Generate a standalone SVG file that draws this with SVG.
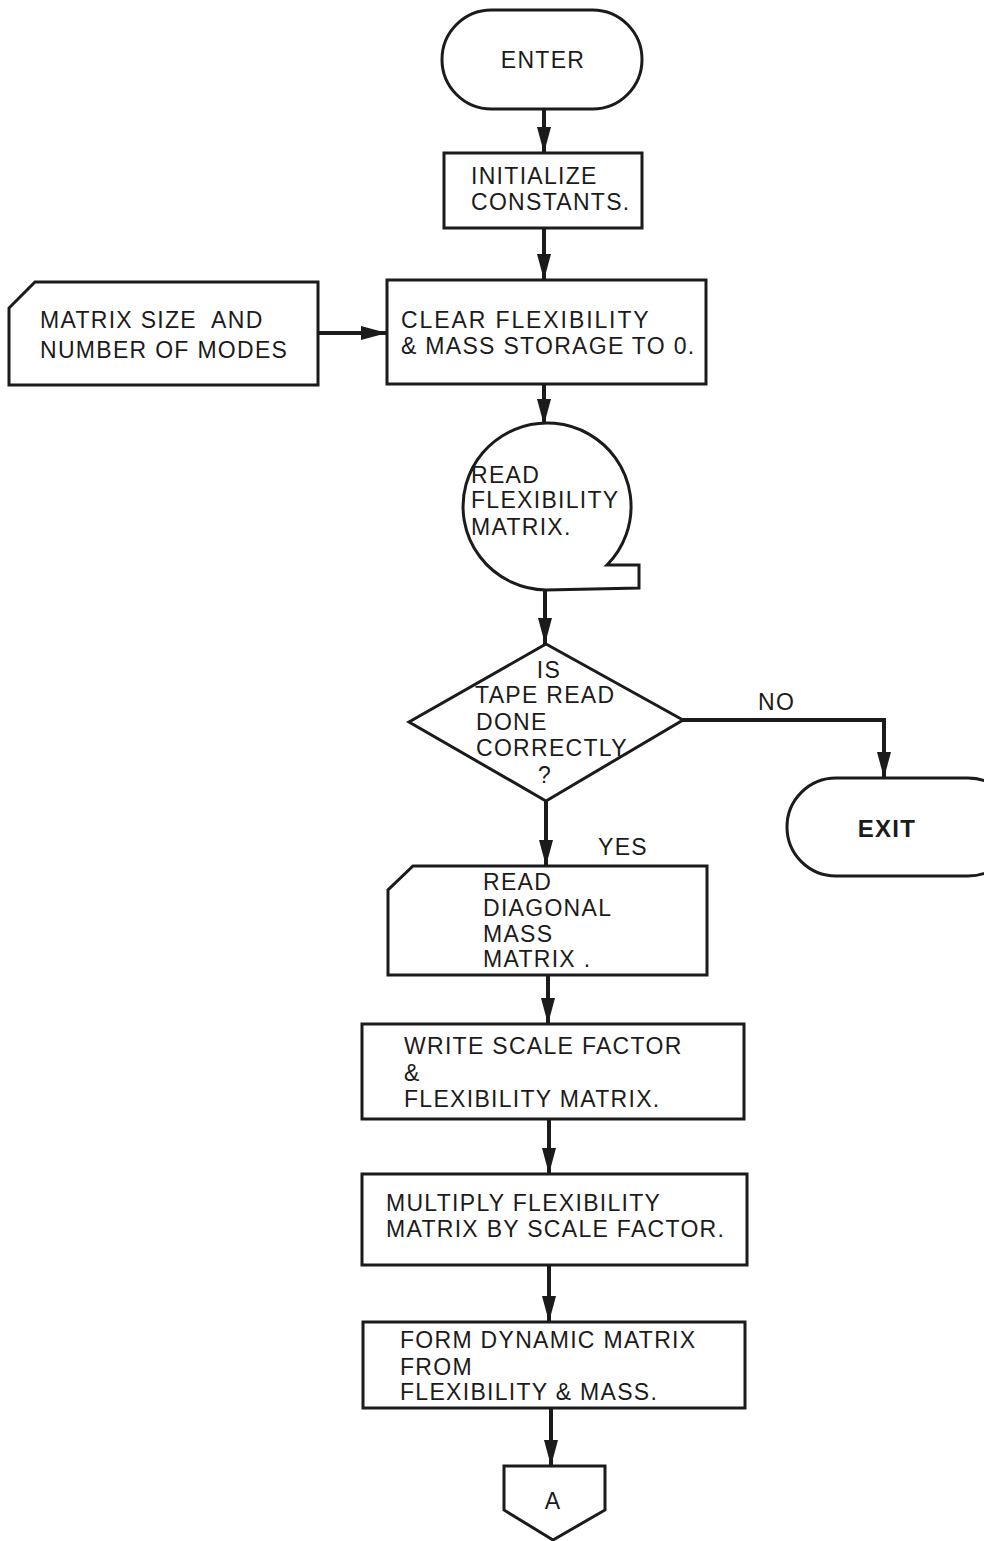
<svg xmlns="http://www.w3.org/2000/svg" width="984" height="1541" viewBox="0 0 984 1541">
  <defs>
    <marker id="arrow" markerWidth="26" markerHeight="14" refX="26" refY="7" orient="auto" markerUnits="userSpaceOnUse" viewBox="0 0 26 14">
      <path d="M0,0 L26,7 L0,14 z" fill="#1b1b1b"/>
    </marker>
    <style>
      .shape { fill: #ffffff; stroke: #1b1b1b; stroke-width: 3; stroke-linejoin: miter; }
      .link { fill: none; stroke: #1b1b1b; stroke-width: 4; }
      .label { font-family: "Liberation Sans", Arial, sans-serif; font-size: 23px; letter-spacing: 1.3px; fill: #1b1b1b; white-space: pre; }
      .mid { text-anchor: middle; }
    </style>
  </defs>

  <rect width="984" height="1541" fill="#ffffff"/>

  <!-- connectors -->
  <g id="connectors">
    <line class="link" x1="544" y1="109" x2="544" y2="153" marker-end="url(#arrow)"/>
    <line class="link" x1="544" y1="228" x2="544" y2="280" marker-end="url(#arrow)"/>
    <line class="link" x1="318" y1="333" x2="387" y2="333" marker-end="url(#arrow)"/>
    <line class="link" x1="544" y1="384" x2="544" y2="425" marker-end="url(#arrow)"/>
    <line class="link" x1="545" y1="590" x2="545" y2="644" marker-end="url(#arrow)"/>
    <polyline class="link" points="683,720 884,720 884,778" marker-end="url(#arrow)"/>
    <line class="link" x1="546" y1="801" x2="546" y2="866" marker-end="url(#arrow)"/>
    <line class="link" x1="548" y1="975" x2="548" y2="1024" marker-end="url(#arrow)"/>
    <line class="link" x1="549" y1="1119" x2="549" y2="1174" marker-end="url(#arrow)"/>
    <line class="link" x1="549" y1="1265" x2="549" y2="1322" marker-end="url(#arrow)"/>
    <line class="link" x1="551" y1="1408" x2="551" y2="1466" marker-end="url(#arrow)"/>
    <text class="label" x="758" y="710">NO</text>
    <text class="label" x="598" y="855">YES</text>
  </g>

  <!-- start terminal -->
  <g id="enter">
    <rect class="shape" x="442" y="10" width="200" height="99" rx="49.5" ry="49.5"/>
    <text class="label mid" x="543" y="68">ENTER</text>
  </g>

  <g id="initialize">
    <rect class="shape" x="444" y="153" width="198" height="75"/>
    <text class="label" x="471" y="184">INITIALIZE</text>
    <text class="label" x="471" y="210">CONSTANTS.</text>
  </g>

  <!-- manual input card -->
  <g id="matrix-size">
    <polygon class="shape" points="35,282 318,282 318,385 9,385 9,308"/>
    <text class="label" x="40" y="328">MATRIX SIZE  AND</text>
    <text class="label" x="40" y="358">NUMBER OF MODES</text>
  </g>

  <g id="clear-storage">
    <rect class="shape" x="387" y="280" width="319" height="104"/>
    <text class="label" x="401" y="328" style="letter-spacing:1.9px">CLEAR FLEXIBILITY</text>
    <text class="label" x="401" y="354">&amp; MASS STORAGE TO 0.</text>
  </g>

  <!-- magnetic tape input -->
  <g id="read-flexibility">
    <path class="shape" d="M546,590 A84,83.5 0 1 1 607,565 L639,565 L639,588 Z"/>
    <text class="label" x="471" y="483">READ</text>
    <text class="label" x="471" y="508">FLEXIBILITY</text>
    <text class="label" x="471" y="535">MATRIX.</text>
  </g>

  <!-- decision -->
  <g id="tape-check">
    <polygon class="shape" points="546,644 683,720 546,801 409,722"/>
    <text class="label mid" x="549" y="678">IS</text>
    <text class="label" x="475" y="703">TAPE READ</text>
    <text class="label" x="476" y="730">DONE</text>
    <text class="label" x="476" y="756">CORRECTLY</text>
    <text class="label mid" x="545" y="783">?</text>
  </g>

  <g id="exit">
    <rect class="shape" x="787" y="778" width="230" height="98" rx="49" ry="49"/>
    <text class="label mid" x="887" y="837" style="font-weight:bold;font-size:24px">EXIT</text>
  </g>

  <g id="read-mass">
    <polygon class="shape" points="413,866 707,866 707,975 388,975 388,890"/>
    <text class="label" x="483" y="890">READ</text>
    <text class="label" x="483" y="916">DIAGONAL</text>
    <text class="label" x="483" y="942">MASS</text>
    <text class="label" x="483" y="967">MATRIX .</text>
  </g>

  <g id="write-scale">
    <rect class="shape" x="362" y="1024" width="382" height="95"/>
    <text class="label" x="404" y="1054">WRITE SCALE FACTOR</text>
    <text class="label" x="404" y="1081">&amp;</text>
    <text class="label" x="404" y="1107">FLEXIBILITY MATRIX.</text>
  </g>

  <g id="multiply">
    <rect class="shape" x="362" y="1174" width="385" height="91"/>
    <text class="label" x="386" y="1211">MULTIPLY FLEXIBILITY</text>
    <text class="label" x="386" y="1237">MATRIX BY SCALE FACTOR.</text>
  </g>

  <g id="dynamic-matrix">
    <rect class="shape" x="363" y="1322" width="382" height="86"/>
    <text class="label" x="400" y="1348">FORM DYNAMIC MATRIX</text>
    <text class="label" x="400" y="1375">FROM</text>
    <text class="label" x="400" y="1400">FLEXIBILITY &amp; MASS.</text>
  </g>

  <!-- off-page connector -->
  <g id="connector-a">
    <polygon class="shape" points="504,1466 605,1466 605,1510 553,1540 504,1510"/>
    <text class="label mid" x="553" y="1509">A</text>
  </g>
</svg>
